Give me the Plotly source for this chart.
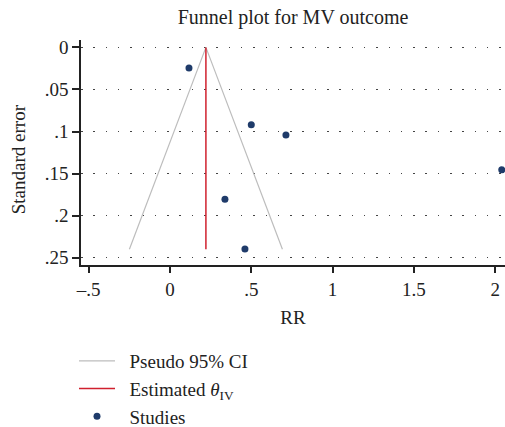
import plotly.graph_objects as go

# Data
study_rr = [0.117, 0.500, 0.713, 2.040, 0.338, 0.461]
study_se = [0.0245, 0.092, 0.104, 0.1456, 0.1805, 0.2396]
theta_iv = 0.221
se_max = 0.24
ci_x = [theta_iv - 1.96 * se_max, theta_iv, theta_iv + 1.96 * se_max]
ci_se = [se_max, 0.0, se_max]
x_tickvals = [-0.5, 0, 0.5, 1, 1.5, 2]
x_ticktext = ["–.5", "0", ".5", "1", "1.5", "2"]
y_tickvals = [0, 0.05, 0.1, 0.15, 0.2, 0.25]
y_ticktext = ["0", ".05", ".1", ".15", ".2", ".25"]

FONT = "Liberation Serif"
FS = 19
NB = "\u00a0\u00a0"

fig = go.Figure()
fig.add_trace(go.Scatter(
    x=ci_x, y=ci_se, mode="lines", name=NB + "Pseudo 95% CI",
    line=dict(color="#bdbdbd", width=1.2), legendgroup="a"))
fig.add_trace(go.Scatter(
    x=[theta_iv, theta_iv], y=[0, se_max], mode="lines",
    name=NB + "Estimated <i>θ</i><sub>IV</sub>",
    line=dict(color="#d0202e", width=1.5), legendgroup="b"))
fig.add_trace(go.Scatter(
    x=study_rr, y=study_se, mode="markers", name=NB + "Studies",
    marker=dict(color="#1f3b6a", size=7), legendgroup="c"))

fig.update_layout(
    width=505, height=427,
    margin=dict(l=81, r=0, t=40, b=162, autoexpand=False),
    paper_bgcolor="white", plot_bgcolor="white",
    font=dict(family=FONT, size=FS, color="#222222"),
    title=dict(text="Funnel plot for MV outcome", x=0.5, xref="paper",
               xanchor="center", y=1 - 17 / 427, yref="container",
               yanchor="middle", font=dict(family=FONT, size=20, color="#222222")),
    showlegend=True,
    legend=dict(x=-0.0165, xref="paper", y=1 - 342 / 427, yref="container",
                yanchor="top", xanchor="left",
                font=dict(family=FONT, size=FS, color="#222222"),
                tracegroupgap=0, bgcolor="rgba(0,0,0,0)", itemwidth=36),
    annotations=[dict(text="Standard error", textangle=-90,
                      xref="paper", yref="paper", x=(18 - 81) / 424, y=0.47,
                      xanchor="center", yanchor="middle", showarrow=False,
                      font=dict(family=FONT, size=FS, color="#222222"))],
)
fig.update_xaxes(
    range=[-0.547, 2.06], tickvals=x_tickvals, ticktext=x_ticktext,
    showline=True, linecolor="#222222", linewidth=1.5,
    ticks="outside", ticklen=6, tickcolor="#222222", tickwidth=1.5,
    showgrid=False, zeroline=False,
    title=dict(text="RR", standoff=12, font=dict(family=FONT, size=FS)),
    tickfont=dict(family=FONT, size=FS),
)
fig.update_yaxes(
    range=[0.2587, -0.0088], tickvals=y_tickvals, ticktext=y_ticktext,
    showline=True, linecolor="#222222", linewidth=1.5,
    ticks="outside", ticklen=7, tickcolor="#222222", tickwidth=1.5,
    showgrid=True, gridcolor="#444444", gridwidth=1.3, griddash="1.5px,10.8px",
    zeroline=False,
    tickfont=dict(family=FONT, size=FS),
)

fig.write_html("out.html")
